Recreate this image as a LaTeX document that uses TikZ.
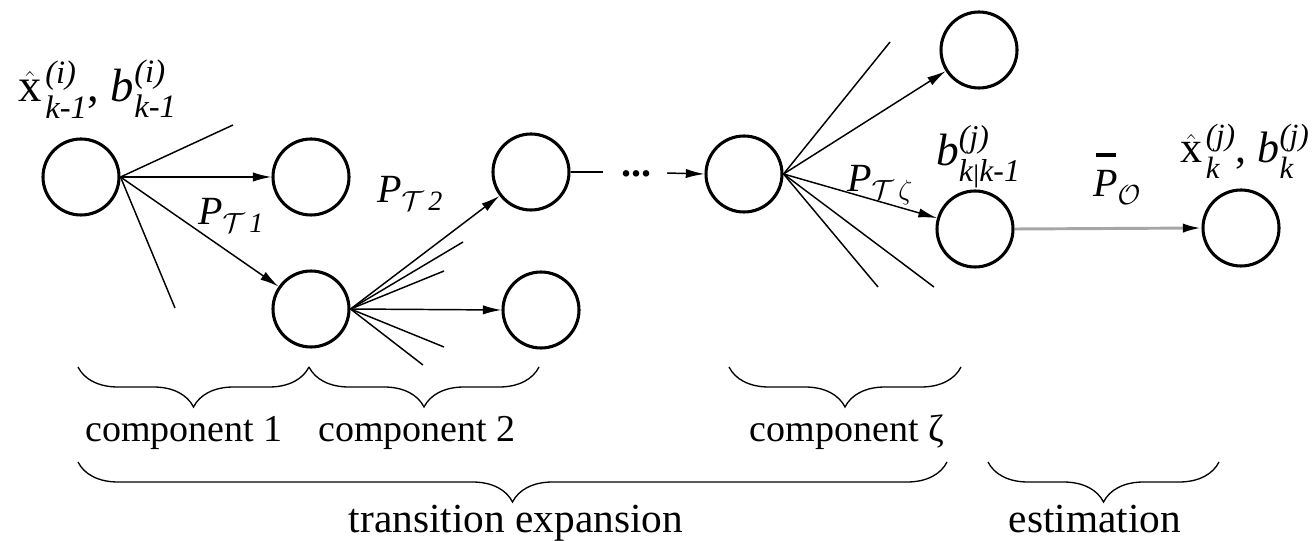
\documentclass[tikz,border=0pt]{standalone}
\usepackage{amsmath}
\usepackage{graphicx}
\usepackage{fontspec}
\setmainfont{Liberation Serif}
\usetikzlibrary{arrows.meta,decorations.pathreplacing}

% P with a heavy bar above it
\newcommand{\barP}{\makebox[0pt][l]{\hspace{0.06em}\rule[1.0em]{0.52em}{0.09em}}\textit{P}}
% x with a hat, kept clear of its scripts
\newcommand{\hatx}{{\hat{\text{x}}\mkern2mu}}
% short conditioning bar for subscripts
\newcommand{\cbar}{\text{\raisebox{-0.02em}{\scalebox{1}[0.8]{|}}}}

\begin{document}
\begin{tikzpicture}[x=0.75pt,y=-0.75pt,
  state/.style={circle,draw,line width=2.3pt,minimum size=57pt,inner sep=0pt},
  edge/.style={line width=1.1pt},
  arr/.style={edge,-{Latex[length=14pt,width=7pt]}},
  obs/.style={line width=2.2pt,draw=black!35,-{Latex[length=14pt,width=7pt,color=black]}},
  brc/.style={decorate,decoration={brace,mirror,amplitude=30pt},line width=1pt},
  complbl/.style={font=\fontsize{28.5}{30}\selectfont,anchor=base,inner sep=0pt},
  grouplbl/.style={font=\fontsize{31}{33}\selectfont,anchor=base,inner sep=0pt},
  plbl/.style={font=\fontsize{30}{32}\selectfont,anchor=base west,inner sep=0pt},
  slbl/.style={font=\fontsize{35}{38}\selectfont,anchor=base west,inner sep=0pt}
]
\useasboundingbox (0,0) rectangle (1312,541);

% states
\node[state] (A) at (81,177) {};
\node[state] (B) at (311,177) {};
\node[state] (C) at (311,309) {};
\node[state] (D) at (531,172) {};
\node[state] (E) at (541,310) {};
\node[state] (F) at (744,174) {};
\node[state] (G) at (979,50) {};
\node[state] (H) at (975,229) {};
\node[state] (I) at (1241,228) {};

% loose ends of the fans
\coordinate (a1) at (233,125);
\coordinate (a2) at (175,308);
\coordinate (c1) at (463,242);
\coordinate (c2) at (444,271);
\coordinate (c3) at (444,347);
\coordinate (c4) at (423,365);
\coordinate (f1) at (890,42);
\coordinate (f2) at (878,287);
\coordinate (f3) at (934,287);

% component 1
\draw[edge] (A.east) -- (a1);
\draw[edge] (A.east) -- (a2);
\draw[arr] (A.east) -- (B.west);
\draw[arr] (A.east) -- (C);

% component 2
\draw[edge] (C.east) -- (c1);
\draw[edge] (C.east) -- (c2);
\draw[edge] (C.east) -- (c3);
\draw[edge] (C.east) -- (c4);
\draw[arr] (C.east) -- (D);
\draw[arr] (C.east) -- (E.west);

% intermediate components
\coordinate (dl) at (603,172);
\node[font=\fontsize{30}{32}\selectfont\bfseries,anchor=base,inner sep=0pt] (dots) at (636,177) {...};
\coordinate (dr) at (667,173);
\draw[edge] (D.east) -- (dl);
\draw[arr] (dr) -- (F.west);

% component zeta
\draw[edge] (F.east) -- (f1);
\draw[edge] (F.east) -- (f2);
\draw[edge] (F.east) -- (f3);
\draw[arr] (F.east) -- (G);
\draw[arr] (F.east) -- (H);

% estimation
\draw[obs] (H.east) -- (I.west);

% labels
\node[slbl] (lA) at (18,102) {$\hatx^{\textit{(i)}}_{\textit{k-1}}\text{, }\textit{b}^{\textit{(i)}}_{\textit{k-1}}$};
\node[plbl] (p1) at (198,225) {$\textit{P}_{\mathcal{T}\,\textit{1}}$};
\node[plbl] (p2) at (377,203) {$\textit{P}_{\mathcal{T}\,\textit{2}}$};
\node[plbl] (pz) at (847,192) {$\textit{P}_{\mathcal{T}\,\zeta}$};
\node[plbl,font=\fontsize{34}{36}\selectfont] (lH) at (936,166) {$\textit{b}^{\textit{(j)}}_{\textit{k}\cbar\textit{k-1}}$};
\node[plbl] (po) at (1093,197) {$\text{\barP}_{\mathcal{O}}$};
\node[slbl,font=\fontsize{33}{36}\selectfont] (lI) at (1180,163) {$\hatx^{\textit{(j)}}_{\textit{k}}\text{, }\textit{b}^{\textit{(j)}}_{\textit{k}}$};

% braces
\coordinate (s1) at (78,367);
\coordinate (s2) at (309,367);
\coordinate (s3) at (539,367);
\coordinate (z1) at (729,367);
\coordinate (z2) at (961,367);
\coordinate (t1) at (78,462);
\coordinate (t2) at (947,462);
\coordinate (e1) at (988,462);
\coordinate (e2) at (1219,462);
\draw[brc] (s1) -- (s2);
\draw[brc] (s2) -- (s3);
\draw[brc] (z1) -- (z2);
\draw[brc] (t1) -- (t2);
\draw[brc] (e1) -- (e2);

\node[complbl] (k1) at (184,441) {component 1};
\node[complbl] (k2) at (417,441) {component 2};
\node[complbl] (kz) at (847,441) {component ζ};
\node[grouplbl] (gt) at (516,532) {transition expansion};
\node[grouplbl] (ge) at (1095,532) {estimation};
\end{tikzpicture}
\end{document}
